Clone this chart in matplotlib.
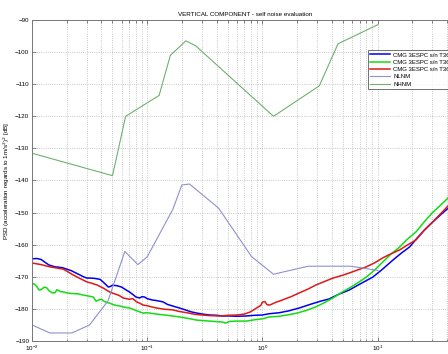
import numpy as np
import matplotlib
matplotlib.use("Agg")
import matplotlib.pyplot as plt
from matplotlib.ticker import LogLocator, NullFormatter

plt.rcParams['font.family'] = ['Liberation Sans', 'DejaVu Sans']

# sensor 1 (blue)
f_blue = [0.01, 0.011, 0.012, 0.013, 0.014, 0.0158, 0.017, 0.0185, 0.02, 0.022, 0.024, 0.026,
          0.028, 0.030, 0.032, 0.035, 0.039, 0.042, 0.046, 0.048, 0.05, 0.055, 0.06, 0.065,
          0.07, 0.075, 0.08, 0.086, 0.09, 0.095, 0.10, 0.11, 0.12, 0.137, 0.15, 0.17, 0.19,
          0.21, 0.24, 0.27, 0.30, 0.35, 0.40, 0.45, 0.52, 0.6, 0.73, 0.85, 1.0, 1.15, 1.4,
          1.7, 2.1, 2.6, 3.2, 3.8, 4.5, 5.7, 7.0, 9.1, 11, 13.6, 16, 19, 22, 25.6, 30, 35, 40, 50]
p_blue = [-164.4, -164.3, -164.6, -165.5, -166.3, -166.9, -167.0, -167.2, -167.6, -168.1, -168.8, -169.4,
          -170.0, -170.4, -170.4, -170.5, -170.8, -171.8, -173.2, -173.0, -172.6, -172.8, -173.2, -174.0,
          -174.7, -175.5, -176.3, -176.6, -176.2, -176.3, -176.8, -177.2, -177.4, -177.8, -178.6, -179.2, -179.7,
          -180.2, -180.9, -181.3, -181.6, -181.9, -182.0, -182.2, -182.2, -182.3, -182.2, -182.0, -181.9, -181.5, -181.2,
          -180.6, -179.7, -178.6, -177.6, -176.9, -175.6, -174.1, -172.3, -170.1, -167.7, -164.8, -162.7, -160.7,
          -158.0, -155.4, -153.0, -150.8, -149.0, -145.5]

# sensor 2 (green)
f_green = [0.01, 0.0105, 0.011, 0.0115, 0.012, 0.0128, 0.0135, 0.014, 0.015, 0.0158, 0.0165, 0.017,
           0.018, 0.0186, 0.02, 0.022, 0.025, 0.028, 0.031, 0.034, 0.036, 0.038, 0.04, 0.043,
           0.047, 0.052, 0.058, 0.064, 0.07, 0.08, 0.092, 0.1, 0.12, 0.15, 0.19, 0.23, 0.27,
           0.35, 0.45, 0.48, 0.52, 0.6, 0.73, 0.85, 1.0, 1.15, 1.4, 1.7, 2.0, 2.4, 2.9, 3.4,
           4.1, 4.8, 5.7, 6.8, 8.0, 9.5, 11.1, 13, 15.6, 18, 21.6, 26, 30, 35, 40, 50]
p_green = [-171.9, -172.3, -173.0, -174.1, -174.0, -173.2, -173.5, -174.3, -175.0, -175.0, -174.0, -174.3,
           -174.7, -174.7, -175.0, -175.2, -175.3, -175.7, -176.0, -176.3, -177.6, -177.2, -177.0, -177.8,
           -178.2, -178.8, -179.1, -179.5, -179.7, -180.5, -181.3, -181.2, -181.6, -182.0, -182.5, -183.0, -183.5,
           -183.8, -184.1, -184.4, -183.9, -183.8, -183.8, -183.4, -183.1, -182.5, -182.3, -181.8, -181.3, -180.5,
           -179.4, -178.2, -176.6, -175.0, -173.5, -171.8, -170.1, -167.8, -165.4, -163.0, -160.7, -158.4, -156.0,
           -152.5, -150.0, -147.8, -145.8, -142.0]

# sensor 3 (red)
f_red = [0.01, 0.012, 0.0143, 0.016, 0.0186, 0.02, 0.0227, 0.026, 0.030, 0.033, 0.037, 0.042,
         0.047, 0.052, 0.057, 0.062, 0.07, 0.075, 0.081, 0.086, 0.092, 0.1, 0.11, 0.12, 0.14,
         0.167, 0.19, 0.23, 0.26, 0.30, 0.35, 0.43, 0.5, 0.60, 0.7, 0.78, 0.85, 0.92, 0.97, 1.0,
         1.05, 1.1, 1.16, 1.3, 1.5, 1.8, 2.1, 2.5, 2.9, 3.5, 4.1, 5.0, 5.7, 6.8, 8.0, 9.5,
         11.1, 13, 15.6, 18, 21.6, 25.6, 30, 35, 40, 50]
p_red = [-165.7, -166.2, -166.9, -167.2, -167.6, -168.2, -169.4, -170.5, -171.6, -172.0, -172.6, -173.6,
         -174.7, -175.3, -175.8, -176.6, -177.0, -176.8, -177.8, -178.2, -178.8, -179.0, -179.4, -179.7, -180.1,
         -180.3, -180.8, -181.3, -181.7, -181.9, -182.1, -182.2, -182.0, -181.9, -181.6, -181.0, -180.2, -179.4,
         -178.9, -177.9, -177.7, -178.7, -178.8, -178.0, -177.2, -176.1, -175.0, -173.8, -172.6, -171.4, -170.4,
         -169.5, -168.8, -167.8, -166.9, -165.6, -164.1, -162.9, -161.6, -160.2, -158.5, -155.4, -153.0, -150.5,
         -148.3, -144.5]

# Peterson noise models
f_nlnm = [0.01, 0.0143, 0.0222, 0.0316, 0.0457, 0.064, 0.083, 0.1, 0.167, 0.2, 0.233, 0.417,
          0.806, 1.25, 2.5, 5.88, 10]
p_nlnm = [-185.0, -187.5, -187.5, -185.0, -177.5, -162.1, -166.2, -163.8, -149.0, -141.4, -141.1, -148.6,
          -163.7, -169.2, -166.7, -166.7, -168.0]
f_nhnm = [0.01, 0.05, 0.065, 0.127, 0.159, 0.217, 0.263, 1.25, 3.125, 4.545, 10]
p_nhnm = [-131.5, -138.5, -120.0, -113.5, -101.0, -96.5, -98.0, -120.0, -110.5, -97.4, -91.5]

labels = ["CMG 3ESPC s/n T3686", "CMG 3ESPC s/n T3608", "CMG 3ESPC s/n T3609", "NLNM", "NHNM"]

fig = plt.figure(figsize=(4.48, 3.54), dpi=100)
# axes run to 50 Hz, a bit past the right edge of the picture (as in the reference)
ax = fig.add_axes([32 / 448, 13 / 354, 426 / 448, 321 / 354])

ax.semilogx(f_blue, p_blue, color='#0000ee', lw=1.1, label=labels[0])
ax.semilogx(f_green, p_green, color='#11dd11', lw=1.1, label=labels[1])
ax.semilogx(f_red, p_red, color='#e01818', lw=1.1, label=labels[2])
ax.semilogx(f_nlnm, p_nlnm, color='#9090d0', lw=0.8, label=labels[3])
ax.semilogx(f_nhnm, p_nhnm, color='#70b070', lw=0.8, label=labels[4])

ax.set_xlim(0.01, 50)
ax.set_ylim(-190, -90)
ax.set_yticks(np.arange(-190, -89, 10))
ax.xaxis.set_major_locator(LogLocator(base=10, numticks=10))
ax.xaxis.set_minor_locator(LogLocator(base=10, subs=np.arange(2, 10), numticks=20))
ax.xaxis.set_minor_formatter(NullFormatter())
ax.grid(True, which='both', color='#b8b8b8', linestyle=':', linewidth=0.6)
ax.tick_params(which='both', direction='in', top=True, right=True, labelsize=4.5,
               color='#555555', length=3, width=0.5, pad=2)
ax.tick_params(which='minor', length=1.8)
for s in ax.spines.values():
    s.set_color('#777777')
    s.set_linewidth(0.7)

ax.set_title("VERTICAL COMPONENT - self noise evaluation", fontsize=4.5, pad=3)
ax.set_xlabel("frequency [Hz]", fontsize=4.5, labelpad=0.5)
ax.set_ylabel("PSD (acceleration regards to 1m/s$^2$)$^2$ [dB]", fontsize=4.5, labelpad=2)

leg = ax.legend(loc='upper left', bbox_to_anchor=((368 - 32) / 426, (341 - 50) / 321),
                fontsize=4.3, frameon=True, fancybox=False, borderpad=0.4, labelspacing=0.35,
                handlelength=3.2, handletextpad=0.6, borderaxespad=0)
leg.get_frame().set_edgecolor('#333333')
leg.get_frame().set_linewidth(0.6)

fig.savefig("out.png", dpi=100)
